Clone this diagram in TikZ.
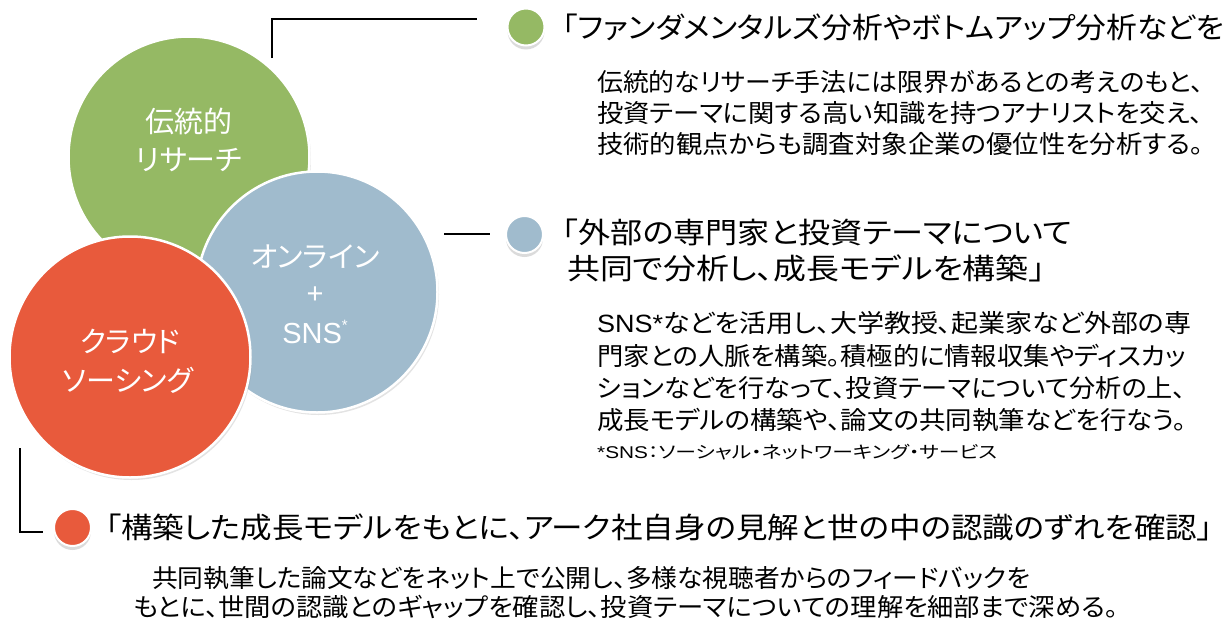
\documentclass[tikz,border=0pt]{standalone}
\usepackage{fontspec}
\usepackage{graphicx}
\setmainfont{Noto Sans CJK JP}[RawFeature=+palt]
\newfontfamily\latin{Liberation Sans}
\usetikzlibrary{shadows}
\definecolor{cgreen}{HTML}{95B964}
\definecolor{cblue}{HTML}{A0BBCD}
\definecolor{cred}{HTML}{E85A3C}
\begin{document}
\begin{tikzpicture}[x=1pt,y=-1pt,
  big/.style={circle, draw=white, line width=2.5pt, minimum size=241pt, inner sep=0pt,
    drop shadow={shadow xshift=1.5pt, shadow yshift=-2.5pt, opacity=0.22}},
  dot/.style={circle, draw=white, line width=2pt, minimum size=37pt, inner sep=0pt,
    drop shadow={shadow xshift=0pt, shadow yshift=-4pt, opacity=0.28}},
  ctext/.style={text=white, font=\fontsize{29}{35}\selectfont, inner sep=0pt},
  title/.style={anchor=west, inner sep=0pt, font=\fontsize{29}{35}\selectfont},
  desc/.style={anchor=west, inner sep=0pt, font=\fontsize{25}{30}\selectfont},
  note/.style={anchor=west, inner sep=0pt, font=\fontsize{17}{20}\selectfont},
  conn/.style={draw=black, line width=1.7pt}
]
\fill[white] (0,0) rectangle (1227,624);
\useasboundingbox (0,0) rectangle (1227,624);

% big circles
\node[big, fill=cgreen] (trad) at (189,157) {};
\node[big, fill=cblue] (online) at (317,292) {};
\node[big, fill=cred] (crowd) at (130,357) {};

\node[ctext] (tradA) at (189,121) {伝統的};
\node[ctext] (tradB) at (189,160) {リサーチ};
\node[ctext] (onA) at (315,257) {オンライン};
\node[ctext] (onB) at (315,295) {\latin +};
\node[ctext] (onC) at (315,332) {\latin SNS\raisebox{0.45em}{\fontsize{15}{15}\selectfont *}};
\node[ctext] (crA) at (130,341) {クラウド};
\node[ctext] (crB) at (128,380) {ソーシング};

% connectors
\coordinate (gA) at (272,58);
\coordinate (gB) at (272,19);
\coordinate (gC) at (477,19);
\draw[conn] (gA) -- (gB) -- (gC);
\coordinate (bA) at (444,234);
\coordinate (bB) at (490,234);
\draw[conn] (bA) -- (bB);
\coordinate (rA) at (20,448);
\coordinate (rB) at (20,532);
\coordinate (rC) at (43,532);
\draw[conn] (rA) -- (rB) -- (rC);

% bullets
\node[dot, fill=cgreen] (gdot) at (526,27) {};
\node[dot, fill=cblue] (bdot) at (524.5,234.5) {};
\node[dot, fill=cred] (rdot) at (72.5,527.5) {};

% green block
\node[title] (gt) at (562,27) {\resizebox{662pt}{\height}{「ファンダメンタルズ分析やボトムアップ分析などを}};
\node[desc] (gd1) at (597,82) {\resizebox{606pt}{\height}{伝統的なリサーチ手法には限界があるとの考えのもと、}};
\node[desc] (gd2) at (597,113) {\resizebox{606pt}{\height}{投資テーマに関する高い知識を持つアナリストを交え、}};
\node[desc] (gd3) at (597,144) {\resizebox{606pt}{\height}{技術的観点からも調査対象企業の優位性を分析する。}};

% blue block
\node[title] (bt1) at (562,232) {\resizebox{510pt}{\height}{「外部の専門家と投資テーマについて}};
\node[title] (bt2) at (567,268) {\resizebox{478pt}{\height}{共同で分析し、成長モデルを構築」}};
\node[desc] (bd1) at (597,323) {\resizebox{594pt}{\height}{{\latin SNS*}などを活用し、大学教授、起業家など外部の専}};
\node[desc] (bd2) at (597,356) {\resizebox{589pt}{\height}{門家との人脈を構築。積極的に情報収集やディスカッ}};
\node[desc] (bd3) at (597,388) {\resizebox{589pt}{\height}{ションなどを行なって、投資テーマについて分析の上、}};
\node[desc] (bd4) at (597,420) {\resizebox{589pt}{\height}{成長モデルの構築や、論文の共同執筆などを行なう。}};
\node[note] (bn) at (597,452) {\resizebox{400pt}{\height}{{\latin *SNS}：ソーシャル・ネットワーキング・サービス}};

% red block
\node[title] (rt) at (105,527) {\resizebox{1108pt}{\height}{「構築した成長モデルをもとに、アーク社自身の見解と世の中の認識のずれを確認」}};
\node[desc] (rd1) at (152,578) {\resizebox{878pt}{\height}{共同執筆した論文などをネット上で公開し、多様な視聴者からのフィードバックを}};
\node[desc] (rd2) at (133,607) {\resizebox{985pt}{\height}{もとに、世間の認識とのギャップを確認し、投資テーマについての理解を細部まで深める。}};
\end{tikzpicture}
\end{document}
